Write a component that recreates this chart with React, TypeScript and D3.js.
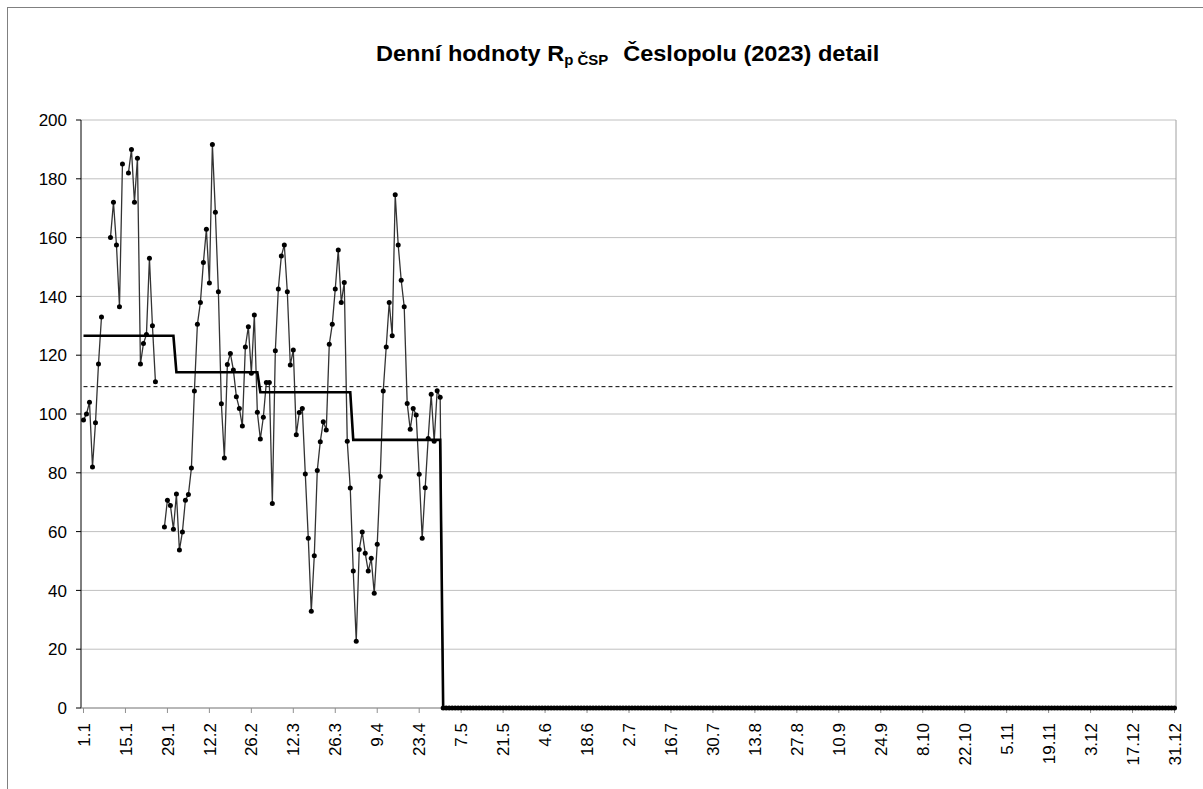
import React from 'react';
import * as d3 from 'd3';

// Daily values 1.1.–30.4.2023 (null = missing day)
const janAprValues: (number | null)[] = [
  98, 100, 104, 82, 97, 117, 133, null, null, 160,
  172, 157.5, 136.5, 185, null, 182, 190, 172, 187, 117,
  124, 127, 153, 130, 111, null, null, 61.6, 70.7, 68.9,
  60.8, 72.8, 53.7, 59.9, 70.7, 72.6, 81.6, 107.8, 130.5, 137.9,
  151.5, 162.8, 144.6, 191.7, 168.6, 141.6, 103.5, 85, 116.8, 120.6,
  115, 105.9, 101.9, 95.9, 122.8, 129.7, 113.9, 133.7, 100.6, 91.5,
  98.9, 110.7, 110.7, 69.6, 121.5, 142.5, 153.7, 157.5, 141.6, 116.7,
  121.8, 92.9, 100.5, 101.9, 79.6, 57.7, 32.9, 51.8, 80.8, 90.6,
  97.4, 94.6, 123.7, 130.5, 142.5, 155.8, 137.9, 144.7, 90.7, 74.8,
  46.6, 22.7, 53.9, 59.9, 52.6, 46.6, 50.9, 39, 55.7, 78.7,
  107.8, 122.8, 137.9, 126.6, 174.6, 157.5, 145.5, 136.5, 103.6, 94.8,
  101.9, 99.7, 79.5, 57.7, 74.9, 91.7, 106.7, 90.7, 107.9, 105.7,
];

// Daily values 1.5.–31.12.2023 (all zero)
const mayDecValues: number[] = [
  0, 0, 0, 0, 0, 0, 0, 0, 0, 0, 0, 0, 0, 0, 0, 0, 0, 0, 0, 0, 0, 0, 0, 0, 0, 0, 0, 0, 0, 0, 0, 0, 0, 0, 0,
  0, 0, 0, 0, 0, 0, 0, 0, 0, 0, 0, 0, 0, 0, 0, 0, 0, 0, 0, 0, 0, 0, 0, 0, 0, 0, 0, 0, 0, 0, 0, 0, 0, 0, 0,
  0, 0, 0, 0, 0, 0, 0, 0, 0, 0, 0, 0, 0, 0, 0, 0, 0, 0, 0, 0, 0, 0, 0, 0, 0, 0, 0, 0, 0, 0, 0, 0, 0, 0, 0,
  0, 0, 0, 0, 0, 0, 0, 0, 0, 0, 0, 0, 0, 0, 0, 0, 0, 0, 0, 0, 0, 0, 0, 0, 0, 0, 0, 0, 0, 0, 0, 0, 0, 0, 0,
  0, 0, 0, 0, 0, 0, 0, 0, 0, 0, 0, 0, 0, 0, 0, 0, 0, 0, 0, 0, 0, 0, 0, 0, 0, 0, 0, 0, 0, 0, 0, 0, 0, 0, 0,
  0, 0, 0, 0, 0, 0, 0, 0, 0, 0, 0, 0, 0, 0, 0, 0, 0, 0, 0, 0, 0, 0, 0, 0, 0, 0, 0, 0, 0, 0, 0, 0, 0, 0, 0,
  0, 0, 0, 0, 0, 0, 0, 0, 0, 0, 0, 0, 0, 0, 0, 0, 0, 0, 0, 0, 0, 0, 0, 0, 0, 0, 0, 0, 0, 0, 0, 0, 0, 0, 0,
];

// Monthly means (Jan..Dec)
const monthlyMeans: number[] = [126.6, 114.2, 107.4, 91.2, 0, 0, 0, 0, 0, 0, 0, 0];
const overallMean = 109.3;

const yTicks: number[] = [0, 20, 40, 60, 80, 100, 120, 140, 160, 180, 200];
const xTickLabels: string[] = [
  '1.1', '15.1', '29.1', '12.2', '26.2', '12.3', '26.3', '9.4', '23.4', '7.5', '21.5', '4.6', '18.6',
  '2.7', '16.7', '30.7', '13.8', '27.8', '10.9', '24.9', '8.10', '22.10', '5.11', '19.11', '3.12',
  '17.12', '31.12',
];

const W = 1203;
const H = 789;
const left = 81;
const right = 1176;
const top = 120;
const bottom = 708;
const FONT = "'Liberation Sans', Arial, sans-serif";

export default function App() {
  const dates = d3.timeDay.range(new Date(2023, 0, 1), new Date(2024, 0, 1));
  const values: (number | null)[] = [...janAprValues, ...mayDecValues];
  const fmt = d3.timeFormat('%-d.%-m');
  const idx = dates.map((_, i) => i);

  const x = d3.scalePoint<number>().domain(idx).range([left + 1, right]).padding(0.5);
  const y = d3.scaleLinear().domain([0, 200]).range([bottom, top]);

  const dataLine = d3
    .line<number>()
    .defined((i) => values[i] != null)
    .x((i) => x(i) as number)
    .y((i) => y(values[i] as number));

  const meanLine = d3
    .line<number>()
    .x((i) => x(i) as number)
    .y((i) => y(monthlyMeans[dates[i].getMonth()]));

  const labelIdx = xTickLabels.map((lab) => dates.findIndex((d) => fmt(d) === lab));

  return (
    <svg
      width={W}
      height={H}
      style={{ position: 'absolute', left: 0, top: 0, background: '#fff' }}
      fontFamily={FONT}
    >
      <rect x={0} y={0} width={W} height={H} fill="#fff" />
      <rect x={7.5} y={7.5} width={1220} height={820} fill="none" stroke="#808080" strokeWidth={1} />

      {/* title */}
      <text transform="translate(376,61) scale(1.07,1)" fontSize={22} fontWeight="bold" fill="#000">
        <tspan>Denní hodnoty R</tspan>
        <tspan fontSize={14} dy={4}>p ČSP</tspan>
        <tspan dy={-4} dx={14}>Česlopolu (2023) detail</tspan>
      </text>

      {/* gridlines */}
      {yTicks.map((t) => (
        <line key={'g' + t} x1={left} x2={right} y1={y(t)} y2={y(t)} stroke="#c0c0c0" strokeWidth={1} />
      ))}
      <line x1={right} x2={right} y1={top} y2={bottom} stroke="#a0a0a0" strokeWidth={1} />

      {/* y axis */}
      <line x1={left} x2={left} y1={top} y2={bottom} stroke="#000" strokeWidth={1} />
      {yTicks.map((t) => (
        <g key={'y' + t}>
          <line x1={left - 5} x2={left} y1={y(t)} y2={y(t)} stroke="#000" />
          <text x={67} y={y(t)} dy="0.36em" textAnchor="end" fontSize={17} fill="#000">
            {t}
          </text>
        </g>
      ))}

      {/* x axis */}
      <line x1={left} x2={right} y1={bottom} y2={bottom} stroke="#909090" strokeWidth={1} />
      {labelIdx.map((i, k) => (
        <g key={'x' + k}>
          <line x1={x(i)} x2={x(i)} y1={bottom} y2={bottom + 5} stroke="#909090" />
          <text
            transform={`translate(${x(i)},${723}) rotate(-90)`}
            dy="0.36em"
            textAnchor="end"
            fontSize={17}
            fill="#000"
          >
            {xTickLabels[k]}
          </text>
        </g>
      ))}

      {/* overall mean */}
      <line
        x1={x(0)}
        x2={x(364)}
        y1={y(overallMean)}
        y2={y(overallMean)}
        stroke="#000"
        strokeWidth={1}
        strokeDasharray="4,3"
      />

      {/* daily values */}
      <path d={dataLine(idx) || ''} fill="none" stroke="#333" strokeWidth={1.3} />
      {idx
        .filter((i) => values[i] != null)
        .map((i) => (
          <circle key={'p' + i} cx={x(i)} cy={y(values[i] as number)} r={2.5} fill="#000" />
        ))}

      {/* monthly mean step */}
      <path d={meanLine(idx) || ''} fill="none" stroke="#000" strokeWidth={2.6} />
    </svg>
  );
}
